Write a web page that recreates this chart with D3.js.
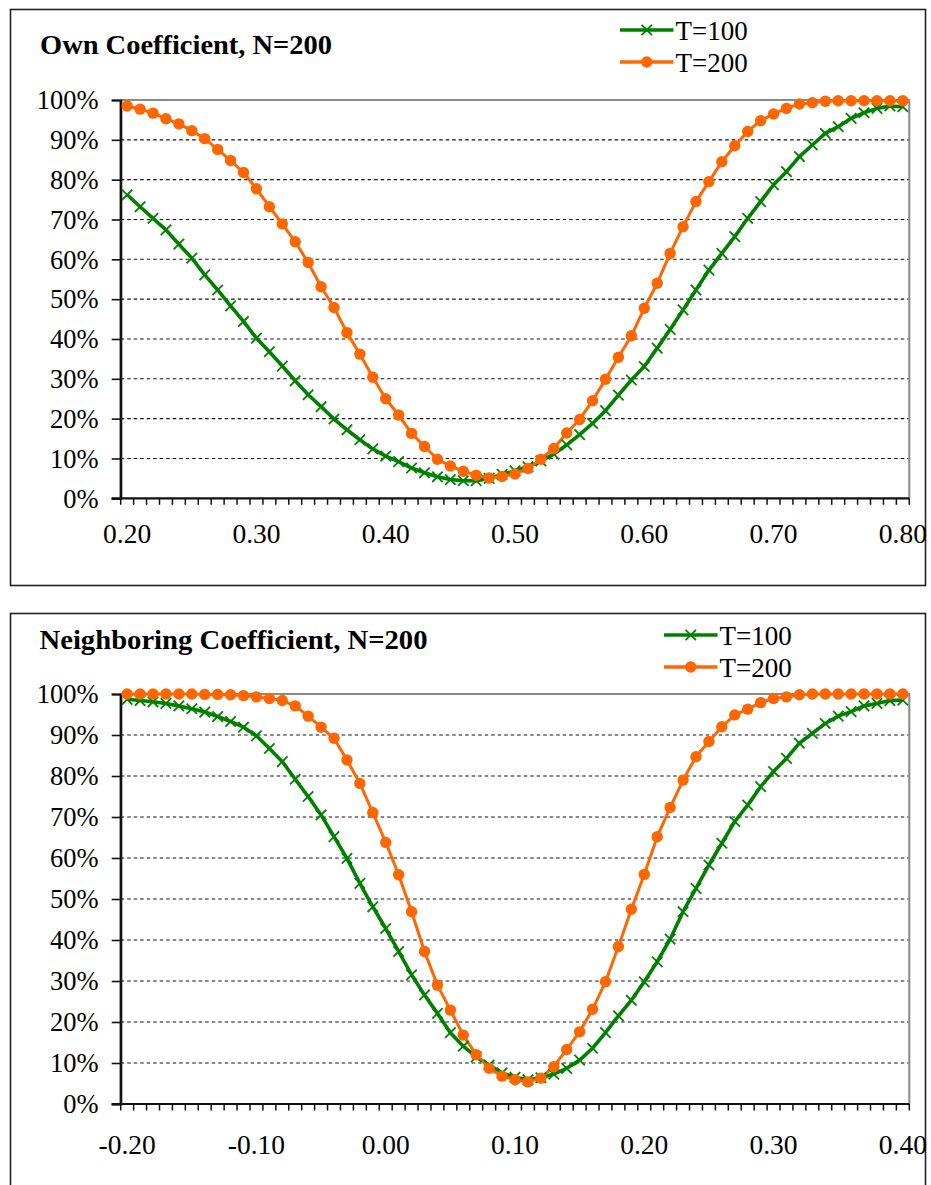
<!DOCTYPE html>
<html>
<head>
<meta charset="utf-8">
<script src="https://cdn.jsdelivr.net/npm/d3@7"></script>
<style>
  html, body { margin: 0; padding: 0; background: #ffffff; }
  svg { display: block; }
  text { font-family: "Liberation Serif", "Times New Roman", "DejaVu Serif", serif; fill: #000; }
</style>
</head>
<body>
<svg id="chart" width="931" height="1185"></svg>
<script>
// ---------- DATA ----------
const topCategories = ["0.20","0.21","0.22","0.23","0.24","0.25","0.26","0.27","0.28","0.29",
  "0.30","0.31","0.32","0.33","0.34","0.35","0.36","0.37","0.38","0.39",
  "0.40","0.41","0.42","0.43","0.44","0.45","0.46","0.47","0.48","0.49",
  "0.50","0.51","0.52","0.53","0.54","0.55","0.56","0.57","0.58","0.59",
  "0.60","0.61","0.62","0.63","0.64","0.65","0.66","0.67","0.68","0.69",
  "0.70","0.71","0.72","0.73","0.74","0.75","0.76","0.77","0.78","0.79","0.80"];
const topTickLabels = ["0.20","0.30","0.40","0.50","0.60","0.70","0.80"];
const topT100 = [76.2,73.2,70.3,67.4,63.8,60.3,56.1,52.3,48.3,44.4,
  40.2,36.8,33.2,29.5,26.0,23.0,19.9,17.2,14.7,12.4,
  10.6,9.2,7.6,6.4,5.4,4.7,4.4,4.4,5.0,6.0,
  6.9,7.9,9.4,11.1,13.4,16.0,18.8,22.0,25.9,29.7,
  33.1,37.7,42.4,47.3,52.3,57.3,61.5,65.7,70.3,74.5,
  78.7,82.0,85.8,88.7,91.6,93.3,95.4,96.8,97.9,98.5,98.3];
const topT200 = [98.5,97.7,96.7,95.3,94.0,92.3,90.3,87.6,84.8,81.8,
  77.7,73.2,68.9,64.4,59.2,53.1,47.9,41.6,36.2,30.4,
  25.0,20.9,16.3,13.0,9.8,8.1,6.8,5.8,5.1,5.5,
  6.1,7.5,9.8,12.5,16.4,19.8,24.5,29.9,35.4,40.8,
  47.7,54.0,61.5,68.2,74.5,79.5,84.5,88.5,92.1,94.8,
  96.5,97.9,99.0,99.3,99.7,99.8,99.8,99.8,99.8,99.8,99.8];

const bottomCategories = ["-0.20","-0.19","-0.18","-0.17","-0.16","-0.15","-0.14","-0.13","-0.12","-0.11",
  "-0.10","-0.09","-0.08","-0.07","-0.06","-0.05","-0.04","-0.03","-0.02","-0.01",
  "0.00","0.01","0.02","0.03","0.04","0.05","0.06","0.07","0.08","0.09",
  "0.10","0.11","0.12","0.13","0.14","0.15","0.16","0.17","0.18","0.19",
  "0.20","0.21","0.22","0.23","0.24","0.25","0.26","0.27","0.28","0.29",
  "0.30","0.31","0.32","0.33","0.34","0.35","0.36","0.37","0.38","0.39","0.40"];
const bottomTickLabels = ["-0.20","-0.10","0.00","0.10","0.20","0.30","0.40"];
const bottomT100 = [98.7,98.4,98.1,97.7,97.1,96.4,95.6,94.5,93.3,91.9,
  89.8,86.7,83.5,79.2,75.0,70.5,65.2,59.9,53.8,48.1,
  42.8,37.2,31.5,26.6,22.1,17.4,14.1,11.5,9.5,7.6,
  6.5,5.9,6.4,7.3,8.7,10.7,13.6,17.4,21.5,25.3,
  29.8,34.7,40.2,46.9,52.6,58.3,63.6,68.9,72.9,77.4,
  81.1,84.3,88.0,90.4,92.8,94.6,95.7,97.1,97.7,98.4,98.5];
const bottomT200 = [100,100,100,100,100,100,99.9,99.9,99.8,99.6,
  99.3,98.9,98.4,97.1,94.6,91.9,89.2,83.9,78.2,71.1,
  63.8,55.9,46.9,37.2,29.0,22.9,16.8,12.0,8.7,6.8,
  5.9,5.4,6.3,9.1,13.3,17.6,23.1,29.8,38.4,47.5,
  56.0,65.2,72.3,79.0,84.7,88.4,92.0,94.9,96.3,97.9,
  98.9,99.3,99.8,100,100,100,100,100,100,100,100];

const yTicks = [0,10,20,30,40,50,60,70,80,90,100];
const seriesNames = ["T=100","T=200"];
const titles = ["Own Coefficient, N=200","Neighboring Coefficient, N=200"];

// ---------- STYLE ----------
const GREEN = "#008000";
const ORANGE = "#FF6600";
const svg = d3.select("#chart");

function drawPanel(cfg) {
  const g = svg.append("g");
  // outer frame
  g.append("rect")
    .attr("x", cfg.frame.x).attr("y", cfg.frame.y)
    .attr("width", cfg.frame.w).attr("height", cfg.frame.h)
    .attr("fill", "#fff").attr("stroke", "#222").attr("stroke-width", 1.6);

  const x = d3.scaleBand().domain(cfg.categories).range([cfg.left, cfg.right]).padding(0);
  const cx = c => x(c) + x.bandwidth() / 2;
  const y = d3.scaleLinear().domain([0, 100]).range([cfg.bottom, cfg.top]);

  // gridlines (dashed)
  g.append("g").selectAll("line").data(yTicks.filter(v => v > 0 && v < 100)).join("line")
    .attr("x1", cfg.left).attr("x2", cfg.right)
    .attr("y1", d => y(d)).attr("y2", d => y(d))
    .attr("stroke", "#111").attr("stroke-width", 1.1).attr("stroke-dasharray", "3.5,3");

  // plot border top & right (gray)
  g.append("path")
    .attr("d", `M${cfg.left},${y(100)}H${cfg.right}V${y(0)}`)
    .attr("fill", "none").attr("stroke", "#8a8a8a").attr("stroke-width", 2);

  // Y axis
  const yAxis = d3.axisLeft(y).tickValues(yTicks).tickSize(9).tickFormat(d => d + "%");
  const ya = g.append("g").attr("transform", `translate(${cfg.left},0)`).call(yAxis);
  ya.select(".domain").attr("stroke", "#111").attr("stroke-width", 2.2);
  ya.selectAll(".tick line").attr("stroke", "#111").attr("stroke-width", 1.6);
  ya.selectAll(".tick text")
    .attr("x", -22).attr("dy", "0.33em")
    .style("font-family", '"Liberation Serif", "Times New Roman", serif')
    .style("font-size", "26.5px").attr("fill", "#000");

  // X axis: labels at selected categories
  const xAxis = d3.axisBottom(x).tickValues(cfg.tickLabels).tickSize(0).tickPadding(0);
  const xa = g.append("g").attr("transform", `translate(0,${cfg.bottom})`).call(xAxis);
  xa.select(".domain").remove();
  xa.selectAll(".tick text")
    .attr("y", cfg.labelOffset).attr("dy", 0)
    .style("font-family", '"Liberation Serif", "Times New Roman", serif')
    .style("font-size", "27.5px").attr("fill", "#000");

  // minor ticks at category boundaries
  const bounds = cfg.categories.map(c => x(c)).concat([cfg.right]);
  g.append("g").selectAll("line").data(bounds).join("line")
    .attr("x1", d => d).attr("x2", d => d)
    .attr("y1", cfg.bottom).attr("y2", cfg.bottom + 6.5)
    .attr("stroke", "#111").attr("stroke-width", 1.5);

  // x axis line
  g.append("line")
    .attr("x1", cfg.left - 9).attr("x2", cfg.right)
    .attr("y1", cfg.bottom).attr("y2", cfg.bottom)
    .attr("stroke", "#111").attr("stroke-width", 2.2);
  // y axis line on top
  g.append("line")
    .attr("x1", cfg.left).attr("x2", cfg.left)
    .attr("y1", y(100)).attr("y2", cfg.bottom)
    .attr("stroke", "#111").attr("stroke-width", 2.2);

  const line = d3.line().x(d => cx(d.c)).y(d => y(d.v));
  const d100 = cfg.categories.map((c, i) => ({ c, v: cfg.s100[i] }));
  const d200 = cfg.categories.map((c, i) => ({ c, v: cfg.s200[i] }));

  // T=100 green line with x markers
  g.append("path").datum(d100).attr("d", line)
    .attr("fill", "none").attr("stroke", GREEN).attr("stroke-width", 3.6).attr("stroke-linejoin", "round");
  // T=200 orange line with circle markers
  g.append("path").datum(d200).attr("d", line)
    .attr("fill", "none").attr("stroke", ORANGE).attr("stroke-width", 3).attr("stroke-linejoin", "round");

  const xm = 5.2;
  g.append("g").selectAll("path").data(d100).join("path")
    .attr("d", d => { const px = cx(d.c), py = y(d.v);
      return `M${px - xm},${py - xm}L${px + xm},${py + xm}M${px - xm},${py + xm}L${px + xm},${py - xm}`; })
    .attr("stroke", GREEN).attr("stroke-width", 1.8).attr("fill", "none");

  g.append("g").selectAll("circle").data(d200).join("circle")
    .attr("cx", d => cx(d.c)).attr("cy", d => y(d.v)).attr("r", 5.7)
    .attr("fill", ORANGE);

  // Title
  g.append("text").attr("x", cfg.titleX).attr("y", cfg.titleY)
    .attr("textLength", cfg.titleW).attr("lengthAdjust", "spacingAndGlyphs")
    .style("font-size", "28px").style("font-weight", "bold").text(cfg.title);

  // Legend
  const lg = g.append("g");
  [[seriesNames[0], GREEN, cfg.legY[0]], [seriesNames[1], ORANGE, cfg.legY[1]]].forEach((s, i) => {
    lg.append("line").attr("x1", cfg.legX0).attr("x2", cfg.legX1).attr("y1", s[2]).attr("y2", s[2])
      .attr("stroke", s[1]).attr("stroke-width", 3.6);
    const mx = (cfg.legX0 + cfg.legX1) / 2;
    if (i === 0) {
      lg.append("path")
        .attr("d", `M${mx - xm},${s[2] - xm}L${mx + xm},${s[2] + xm}M${mx - xm},${s[2] + xm}L${mx + xm},${s[2] - xm}`)
        .attr("stroke", s[1]).attr("stroke-width", 1.8);
    } else {
      lg.append("circle").attr("cx", mx).attr("cy", s[2]).attr("r", 5.7).attr("fill", s[1]);
    }
    lg.append("text").attr("x", cfg.legX1 + 2).attr("y", s[2] + 9.5)
      .style("font-size", "27px").text(s[0]);
  });
}

drawPanel({
  frame: { x: 10.5, y: 9.5, w: 915, h: 576 },
  left: 120.7, right: 909.3, top: 100, bottom: 498.3,
  categories: topCategories, tickLabels: topTickLabels,
  s100: topT100, s200: topT200, labelOffset: 45,
  title: titles[0], titleX: 40, titleY: 53.5, titleW: 292,
  legX0: 620, legX1: 673.5, legY: [30, 62]
});

drawPanel({
  frame: { x: 10.5, y: 613.5, w: 915, h: 576 },
  left: 120.7, right: 909.3, top: 694, bottom: 1104,
  categories: bottomCategories, tickLabels: bottomTickLabels,
  s100: bottomT100, s200: bottomT200, labelOffset: 50,
  title: titles[1], titleX: 39.5, titleY: 648.5, titleW: 388,
  legX0: 664, legX1: 717.5, legY: [635, 667]
});
</script>
</body>
</html>
